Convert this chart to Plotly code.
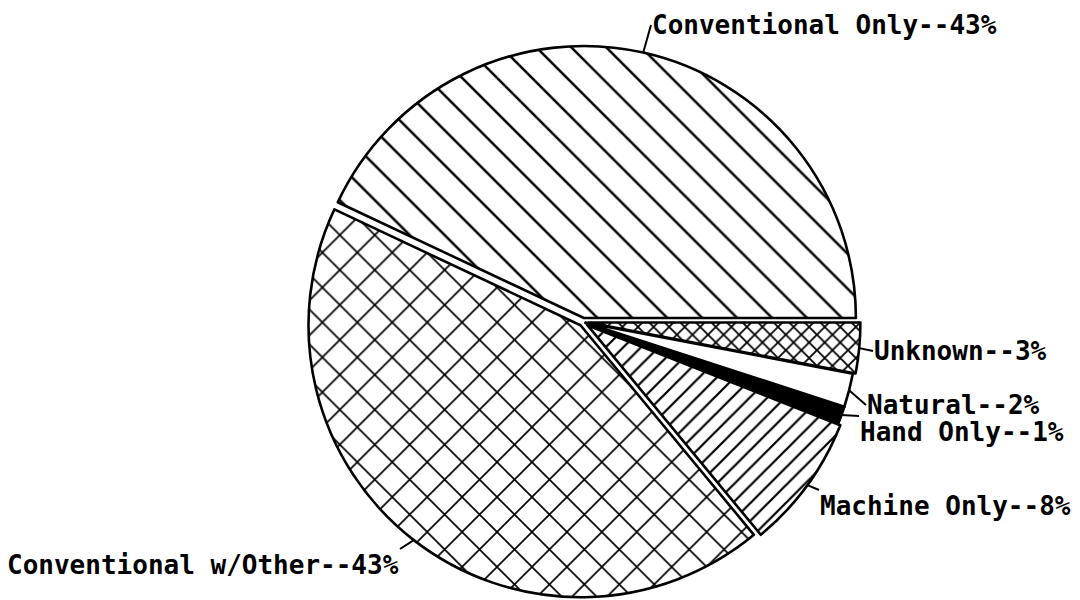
import math
import plotly.graph_objects as go

# ---- data ----
labels = ["Conventional Only", "Conventional w/Other", "Machine Only",
          "Hand Only", "Natural", "Unknown"]
values = [43, 43, 8, 1, 2, 3]

# ---- styles ----
pulls = [0.015, 0.015, 0.02, 0.01, 0.01, 0.02]
fill_colors = ["white", "white", "white", "black", "white", "white"]
pattern_shapes = ["\\", "x", "/", "", "", "x"]
pattern_sizes = [24.7, 24.7, 12.5, 10, 10, 11]
pattern_solid = [0.1, 0.13, 0.18, 0.2, 0.2, 0.3]

W, H = 1080, 600
OFF = 8                         # page body margin of the html page
CX, CY = 583 - OFF, 322 - OFF   # pie centre in figure pixels
MAXPULL = max(pulls)
HALF = 272 * (1 + MAXPULL)      # half domain size so that radius ~272 px
R = HALF / (1 + MAXPULL)

dom_x = [(CX - HALF) / W, (CX + HALF) / W]
dom_y = [max((H - CY - HALF) / H, 0), min((H - CY + HALF) / H, 1)]

total = sum(values)
# first slice should start at 3 o'clock and run counter-clockwise
rotation = 90 - 360.0 * values[0] / total

fig = go.Figure(go.Pie(
    labels=labels,
    values=values,
    sort=False,
    direction="counterclockwise",
    rotation=rotation,
    pull=pulls,
    textinfo="none",
    hoverinfo="label+percent",
    showlegend=False,
    domain=dict(x=dom_x, y=dom_y),
    marker=dict(
        colors=fill_colors,
        line=dict(color="black", width=2.6),
        pattern=dict(shape=pattern_shapes, size=pattern_sizes,
                     solidity=pattern_solid, fgcolor="black",
                     bgcolor=fill_colors, fillmode="replace"),
    ),
))

# label placement (pixel position of the text anchor, page coordinates)
label_layout = {
    "Conventional Only":    dict(tail=(651, 25), xanchor="left", yanchor="middle"),
    "Conventional w/Other": dict(tail=(400, 549), xanchor="right", yanchor="top"),
    "Machine Only":         dict(tail=(819, 490), xanchor="left", yanchor="top"),
    "Hand Only":            dict(tail=(859, 416), xanchor="left", yanchor="top"),
    "Natural":              dict(tail=(866, 405), xanchor="left", yanchor="middle"),
    "Unknown":              dict(tail=(873, 351), xanchor="left", yanchor="middle"),
}

cum = 0.0
annotations = []
for lab, val, p in zip(labels, values, pulls):
    a0 = cum / total * 360.0
    cum += val
    a1 = cum / total * 360.0
    mid = math.radians((a0 + a1) / 2)
    hx = CX + (R + p * R) * math.cos(mid)
    hy = CY - (R + p * R) * math.sin(mid)
    lay = label_layout[lab]
    tx, ty = lay["tail"][0] - OFF, lay["tail"][1] - OFF
    annotations.append(dict(
        x=hx / W, y=1 - hy / H, xref="paper", yref="paper",
        ax=tx - hx, ay=ty - hy, axref="pixel", ayref="pixel",
        text=f"{lab}--{val}%",
        showarrow=True, arrowhead=0, arrowwidth=2, arrowcolor="black",
        standoff=0, startstandoff=0,
        xanchor=lay["xanchor"], yanchor=lay["yanchor"],
        font=dict(family="DejaVu Sans Mono", size=26, color="black",
                  weight="bold"),
        borderpad=0,
    ))

fig.update_layout(
    width=W, height=H,
    margin=dict(l=0, r=0, t=0, b=0),
    paper_bgcolor="white", plot_bgcolor="white",
    annotations=annotations,
)

fig.write_html("out.html")
